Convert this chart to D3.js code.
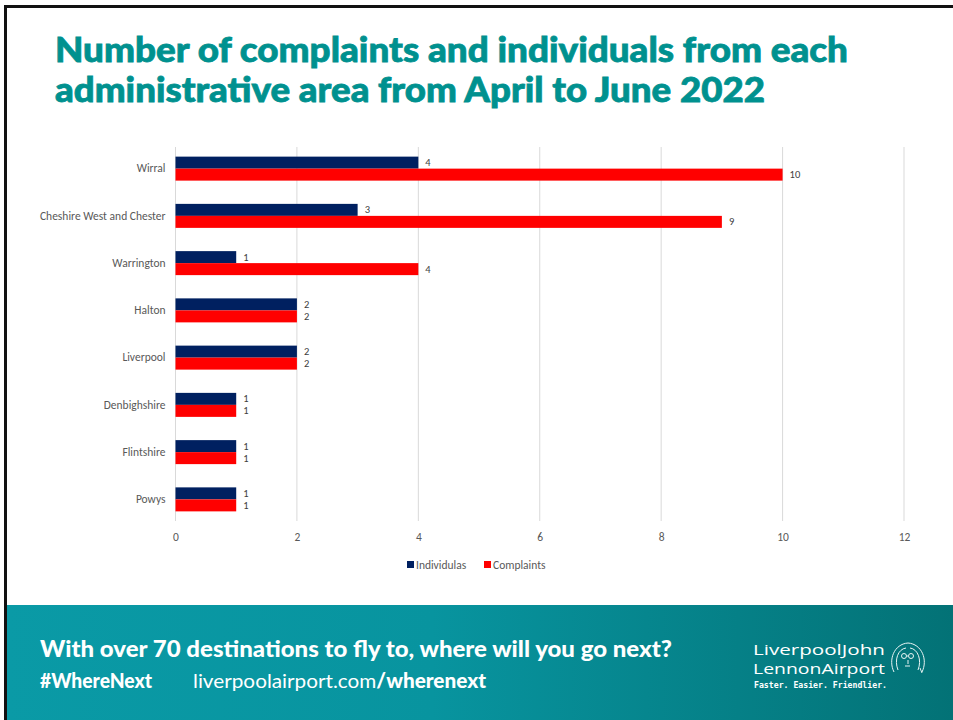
<!DOCTYPE html>
<html>
<head>
    <meta charset="utf-8">
    <title>Complaints by administrative area</title>
    <script src="https://cdn.jsdelivr.net/npm/d3@7"></script>
    <style>
        body { margin: 0; background: #fff; }
        svg { display: block; }
    </style>
</head>
<body>
<svg width="953" height="720"></svg>
<script>
    // data
    const areas = ["Wirral", "Cheshire West and Chester", "Warrington", "Halton", "Liverpool", "Denbighshire", "Flintshire", "Powys"];
    const individuals = [4, 3, 1, 2, 2, 1, 1, 1];
    const complaints = [10, 9, 4, 2, 2, 1, 1, 1];
    const seriesNames = ["Individulas", "Complaints"];
    const seriesColors = ["#002060", "#ff0000"];
    const xTicks = [0, 2, 4, 6, 8, 10, 12];

    const svg = d3.select("svg");
    const W = 953, H = 720;

    // footer band with gradient
    const defs = svg.append("defs");
    const grad = defs.append("linearGradient").attr("id", "foot").attr("x1", 0).attr("x2", 1);
    grad.append("stop").attr("offset", 0).attr("stop-color", "#0a9aa6");
    grad.append("stop").attr("offset", 0.45).attr("stop-color", "#08949f");
    grad.append("stop").attr("offset", 1).attr("stop-color", "#037276");
    svg.append("rect").attr("x", 6).attr("y", 605).attr("width", W - 6).attr("height", H - 605).attr("fill", "url(#foot)");

    // frame lines
    svg.append("rect").attr("x", 4).attr("y", 5).attr("width", W - 4).attr("height", 3).attr("fill", "#111");
    svg.append("rect").attr("x", 4).attr("y", 5).attr("width", 3).attr("height", H - 5).attr("fill", "#111");

    // title
    const title = svg.append("g")
        .attr("font-family", "Lato, 'Open Sans', sans-serif")
        .attr("font-weight", 900)
        .attr("font-size", 35)
        .attr("fill", "#00918f")
        .attr("stroke", "#00918f").attr("stroke-width", 0.8);
    title.append("text").attr("x", 55).attr("y", 62)
        .attr("textLength", 793).attr("lengthAdjust", "spacingAndGlyphs")
        .text("Number of complaints and individuals from each");
    title.append("text").attr("x", 55).attr("y", 102)
        .attr("textLength", 710).attr("lengthAdjust", "spacingAndGlyphs")
        .text("administrative area from April to June 2022");

    // chart
    const x = d3.scaleLinear().domain([0, 12]).range([175.5, 904]);
    const y = d3.scaleBand().domain(areas).range([145, 523]);
    const barH = 12;
    const font = "Calibri, Carlito, 'Open Sans', sans-serif";
    const fs = 11.5;
    const chart = svg.append("g").attr("font-family", font);

    chart.append("g")
        .selectAll("line")
        .data(xTicks)
        .join("line")
        .attr("x1", d => x(d)).attr("x2", d => x(d))
        .attr("y1", 147).attr("y2", 521)
        .attr("stroke", "#d9d9d9").attr("stroke-width", 1);

    const xAxis = d3.axisBottom(x).tickValues(xTicks).tickSize(0).tickPadding(0);
    const xg = chart.append("g").attr("transform", "translate(0,533)").call(xAxis);
    xg.select(".domain").remove();
    xg.selectAll("text").attr("fill", "#595959").attr("font-size", fs).attr("font-family", font);

    const yAxis = d3.axisLeft(y).tickSize(0).tickPadding(10);
    const yg = chart.append("g").attr("transform", "translate(175.5,0)").call(yAxis);
    yg.select(".domain").remove();
    yg.selectAll("text").attr("fill", "#595959").attr("font-size", fs).attr("font-family", font);

    const series = [individuals, complaints];
    series.forEach((vals, s) => {
        const g = chart.append("g");
        const top = d => y(areas[d]) + y.bandwidth() / 2 - barH + s * barH;
        g.selectAll("rect")
            .data(d3.range(areas.length))
            .join("rect")
            .attr("x", x(0))
            .attr("y", top)
            .attr("width", i => x(vals[i]) - x(0))
            .attr("height", barH)
            .attr("fill", seriesColors[s]);
        g.selectAll("text")
            .data(d3.range(areas.length))
            .join("text")
            .attr("x", i => x(vals[i]) + 7)
            .attr("y", i => top(i) + barH / 2 + 3.5)
            .attr("font-size", 10.5)
            .attr("fill", "#404040")
            .text(i => vals[i]);
    });

    // legend
    const legend = chart.append("g").attr("font-size", fs).attr("fill", "#595959");
    const legX = [407, 484];
    seriesNames.forEach((n, i) => {
        legend.append("rect").attr("x", legX[i]).attr("y", 561).attr("width", 7).attr("height", 7).attr("fill", seriesColors[i]);
        legend.append("text").attr("x", legX[i] + 9).attr("y", 569).attr("fill", "#595959").text(n);
    });

    // footer text
    const foot = svg.append("g").attr("fill", "#fff").attr("font-family", "Lato, sans-serif");
    foot.append("text").attr("x", 40).attr("y", 657).attr("font-size", 22).attr("font-weight", 900)
        .attr("textLength", 632).attr("lengthAdjust", "spacingAndGlyphs")
        .text("With over 70 destinations to fly to, where will you go next?");
    foot.append("text").attr("x", 40).attr("y", 688).attr("font-size", 20).attr("font-weight", 900)
        .attr("textLength", 112).attr("lengthAdjust", "spacingAndGlyphs")
        .text("#WhereNext");
    const url = foot.append("text").attr("x", 193).attr("y", 688).attr("font-size", 20)
        .attr("textLength", 293).attr("lengthAdjust", "spacingAndGlyphs");
    url.append("tspan").attr("font-weight", 400).text("liverpoolairport.com");
    url.append("tspan").attr("font-weight", 900).text("/wherenext");

    // logo
    const logo = svg.append("g").attr("fill", "#fff").attr("font-family", "'Open Sans', sans-serif");
    logo.append("text").attr("x", 753).attr("y", 655).attr("font-size", 14.5)
        .attr("textLength", 132).attr("lengthAdjust", "spacingAndGlyphs").text("LiverpoolJohn");
    logo.append("text").attr("x", 753).attr("y", 674).attr("font-size", 14.5)
        .attr("textLength", 132).attr("lengthAdjust", "spacingAndGlyphs").text("LennonAirport");
    logo.append("text").attr("x", 754).attr("y", 688).attr("font-size", 8.5).attr("font-weight", 700)
        .attr("font-family", "'DejaVu Sans Mono', monospace")
        .attr("textLength", 133).attr("lengthAdjust", "spacingAndGlyphs").text("Faster. Easier. Friendlier.");
    const face = svg.append("g").attr("fill", "none").attr("stroke", "#e8f4f4").attr("stroke-width", 1)
        .attr("transform", "translate(908,658)");
    face.append("path").attr("d", "M-14,14 C-20,2 -14,-14 0,-15 C14,-14 20,2 14,14");
    face.append("path").attr("d", "M-10,12 C-14,2 -10,-9 -2,-10");
    face.append("path").attr("d", "M10,12 C14,2 10,-9 2,-10 M12,10 L14,15");
    face.append("circle").attr("cx", -4).attr("cy", -2).attr("r", 2.5);
    face.append("circle").attr("cx", 3).attr("cy", -2).attr("r", 2.5);
    face.append("path").attr("d", "M-1,-2 L0,-2 M0,2 L0,6 M-3,8 L2,8");
</script>
</body>
</html>
